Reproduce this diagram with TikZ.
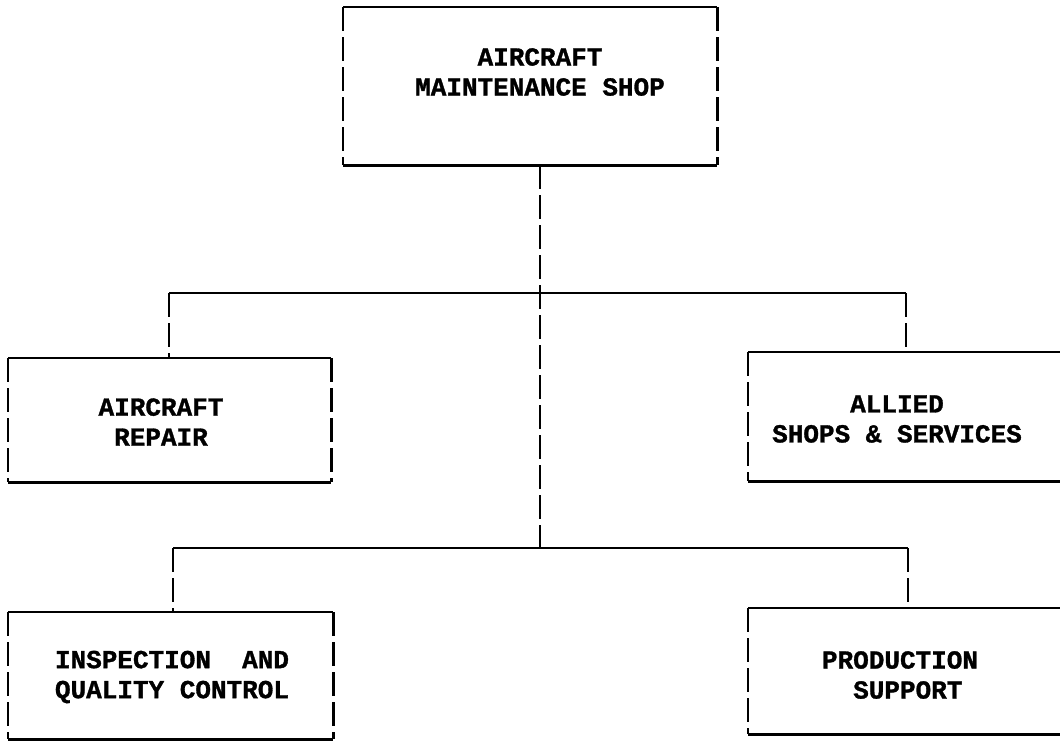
\documentclass[tikz,border=0pt]{standalone}
\usepackage{fontspec}
\setmonofont{Liberation Mono}[BoldFeatures={FakeBold=1.2}]
\begin{document}
\begin{tikzpicture}[x=1pt,y=-1pt,
  solidline/.style={line width=2.4pt,line cap=butt},
  dashline/.style={line width=2.4pt,dash pattern=on 24pt off 6pt},
  boxarea/.style={draw=none,inner sep=0pt,anchor=north west},
  lbl/.style={font=\ttfamily\bfseries\fontsize{26}{30}\selectfont,align=center,inner sep=0pt}
]
\useasboundingbox (0,0) rectangle (1060,740);
\clip (0,0) rectangle (1060,740);
% boxes
\node[boxarea,minimum width=374pt,minimum height=158pt] (top) at (343,7) {};
\node[boxarea,minimum width=323pt,minimum height=124pt] (repair) at (8,358) {};
\node[boxarea,minimum width=340pt,minimum height=129pt] (allied) at (748,352) {};
\node[boxarea,minimum width=325pt,minimum height=127pt] (insp) at (8,612) {};
\node[boxarea,minimum width=340pt,minimum height=126pt] (prod) at (748,608) {};
% box edges
\foreach \b in {top,repair,allied,insp,prod}{
  \draw[solidline] (\b.north west) -- (\b.north east);
  \draw[solidline] (\b.south west) -- (\b.south east);
  \draw[dashline] (\b.north west) -- (\b.south west);
  \draw[dashline] (\b.north east) -- (\b.south east);
}
% labels
\node[lbl] (topt) at (540,72) {AIRCRAFT\\MAINTENANCE SHOP};
\node[lbl] (repairt) at (161,422) {AIRCRAFT\\REPAIR};
\node[lbl] (alliedt) at (897,419) {ALLIED\\SHOPS \& SERVICES};
\node[lbl] (inspt) at (172,677) {INSPECTION\ \ AND\\QUALITY CONTROL};
\node[lbl,align=left] (prodt) at (900,675) {PRODUCTION\\\ \ SUPPORT};
% connector coordinates
\coordinate (b1l) at (169,293);
\coordinate (b1r) at (906,293);
\coordinate (b1c) at (540,293);
\coordinate (b2l) at (173,548);
\coordinate (b2r) at (908,548);
\coordinate (b2c) at (540,548);
% bars
\draw[solidline] (b1l) -- (b1r);
\draw[solidline] (b2l) -- (b2r);
% trunk
\draw[dashline] (top.south -| b1c) -- (b2c);
% drops
\draw[dashline] (b1l) -- (b1l |- repair.north);
\draw[dashline] (b1r) -- (b1r |- allied.north);
\draw[dashline] (b2l) -- (b2l |- insp.north);
\draw[dashline] (b2r) -- (b2r |- prod.north);
\end{tikzpicture}
\end{document}
